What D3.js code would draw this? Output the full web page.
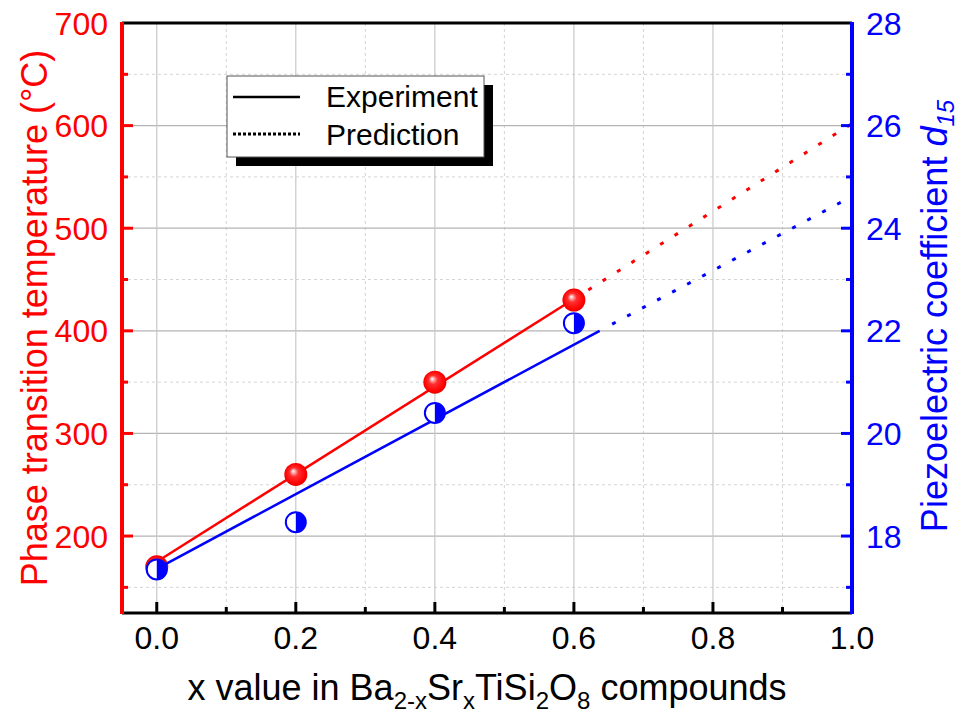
<!DOCTYPE html>
<meta charset="utf-8">
<head>
  <title>Phase transition and d15</title>
  <script src="https://cdn.jsdelivr.net/npm/d3@7/dist/d3.min.js"></script>
  <style>
    body { margin: 0; background: #fff; }
    svg text { font-family: "Liberation Sans", Arial, sans-serif; }
  </style>
</head>
<body>
<div id="chart"></div>
<script>
// data
var xValues = [0.0, 0.2, 0.4, 0.6];
var tempValues = [170, 260, 350, 430];        // phase transition temperature (C)
var d15Values = [17.35, 18.27, 20.4, 22.15];   // piezoelectric coefficient d15

// fitted lines: [x, y] end points
var tempFitExp = [[0.0, 175], [0.6, 431]];
var tempFitPred = [[0.6, 431], [1.0, 602]];
var d15FitExp = [[0.0, 17.36], [0.637, 22.0]];
var d15FitPred = [[0.655, 22.13], [1.0, 24.62]];

var xTicks = [0.0, 0.2, 0.4, 0.6, 0.8, 1.0];
var xMinor = [0.1, 0.3, 0.5, 0.7, 0.9];
var leftTicks = [200, 300, 400, 500, 600, 700];
var leftMinor = [150, 250, 350, 450, 550, 650];
var rightTicks = [18, 20, 22, 24, 26, 28];
var rightMinor = [17, 19, 21, 23, 25, 27];

var legendItems = ["Experiment", "Prediction"];

var W = 963, H = 718;
var plot = {left: 122, right: 852, top: 23, bottom: 613};
var RED = "#ff0000", BLUE = "#0000ff";

var svg = d3.select("#chart").append("svg")
    .attr("width", W).attr("height", H);

var x = d3.scaleLinear().domain([-0.05, 1.0]).range([plot.left, plot.right]);
var yL = d3.scaleLinear().domain([125, 700]).range([plot.bottom, plot.top]);
var yR = d3.scaleLinear().domain([16.5, 28]).range([plot.bottom, plot.top]);

// red sphere gradient
var defs = svg.append("defs");
var grad = defs.append("radialGradient").attr("id", "sphere")
    .attr("cx", "50%").attr("cy", "50%").attr("r", "55%")
    .attr("fx", "38%").attr("fy", "35%");
grad.append("stop").attr("offset", "0%").attr("stop-color", "#ffffff");
grad.append("stop").attr("offset", "35%").attr("stop-color", "#ff3030");
grad.append("stop").attr("offset", "80%").attr("stop-color", "#ff0000");
grad.append("stop").attr("offset", "100%").attr("stop-color", "#d40000");

var clipL = defs.append("clipPath").attr("id", "lefthalf");
clipL.append("rect").attr("x", -20).attr("y", -20).attr("width", 20).attr("height", 40);

// grid
var grid = svg.append("g");
grid.selectAll(".hmin").data(leftMinor).enter().append("line")
    .attr("x1", plot.left).attr("x2", plot.right)
    .attr("y1", d => yL(d)).attr("y2", d => yL(d))
    .attr("stroke", "#d4d4d4").attr("stroke-width", 1).attr("stroke-dasharray", "3,3");
grid.selectAll(".vmin").data(xMinor).enter().append("line")
    .attr("y1", plot.top).attr("y2", plot.bottom)
    .attr("x1", d => x(d)).attr("x2", d => x(d))
    .attr("stroke", "#d4d4d4").attr("stroke-width", 1).attr("stroke-dasharray", "3,3");
grid.selectAll(".hmaj").data(leftTicks.filter(d => d < 700)).enter().append("line")
    .attr("x1", plot.left).attr("x2", plot.right)
    .attr("y1", d => yL(d)).attr("y2", d => yL(d))
    .attr("stroke", "#b4b4b4").attr("stroke-width", 1.2);
grid.selectAll(".vmaj").data(xTicks.filter(d => d < 1)).enter().append("line")
    .attr("y1", plot.top).attr("y2", plot.bottom)
    .attr("x1", d => x(d)).attr("x2", d => x(d))
    .attr("stroke", "#c8c8c8").attr("stroke-width", 1.2);

// lines
var lineL = d3.line().x(d => x(d[0])).y(d => yL(d[1]));
var lineR = d3.line().x(d => x(d[0])).y(d => yR(d[1]));

svg.append("path").attr("d", lineL(tempFitExp))
    .attr("fill", "none").attr("stroke", RED).attr("stroke-width", 2.5);
svg.append("path").attr("d", lineL(tempFitPred))
    .attr("fill", "none").attr("stroke", RED).attr("stroke-width", 3)
    .attr("stroke-dasharray", "4,13");

svg.selectAll(".tempPt").data(xValues).enter().append("circle")
    .attr("cx", d => x(d)).attr("cy", (d, i) => yL(tempValues[i]))
    .attr("r", 11.5).attr("fill", "url(#sphere)");

svg.append("path").attr("d", lineR(d15FitExp))
    .attr("fill", "none").attr("stroke", BLUE).attr("stroke-width", 2.5);
svg.append("path").attr("d", lineR(d15FitPred))
    .attr("fill", "none").attr("stroke", BLUE).attr("stroke-width", 3)
    .attr("stroke-dasharray", "4,13");

var half = svg.selectAll(".d15Pt").data(xValues).enter().append("g")
    .attr("transform", (d, i) => "translate(" + x(d) + "," + yR(d15Values[i]) + ")");
half.append("circle").attr("r", 10).attr("fill", BLUE);
half.append("circle").attr("r", 10).attr("fill", "#fff").attr("clip-path", "url(#lefthalf)");
half.append("circle").attr("r", 10).attr("fill", "none").attr("stroke", BLUE).attr("stroke-width", 2);

// axes frame
svg.append("line").attr("x1", plot.left).attr("x2", plot.right)
    .attr("y1", plot.top).attr("y2", plot.top)
    .attr("stroke", "#000").attr("stroke-width", 3);
svg.append("line").attr("x1", plot.left).attr("x2", plot.right)
    .attr("y1", plot.bottom).attr("y2", plot.bottom)
    .attr("stroke", "#000").attr("stroke-width", 3);
svg.append("line").attr("x1", plot.left).attr("x2", plot.left)
    .attr("y1", plot.top - 1).attr("y2", plot.bottom + 1)
    .attr("stroke", RED).attr("stroke-width", 4);
svg.append("line").attr("x1", plot.right).attr("x2", plot.right)
    .attr("y1", plot.top - 1).attr("y2", plot.bottom + 1)
    .attr("stroke", BLUE).attr("stroke-width", 4);

// ticks (inward)
function tickLines(data, pos, horiz, len, base, color) {
  svg.append("g").selectAll("line").data(data).enter().append("line")
    .attr("x1", d => horiz ? base : pos(d))
    .attr("x2", d => horiz ? base + len : pos(d))
    .attr("y1", d => horiz ? pos(d) : base)
    .attr("y2", d => horiz ? pos(d) : base + len)
    .attr("stroke", color).attr("stroke-width", 3);
}
tickLines(leftTicks.filter(d => d < 700), yL, true, 11, plot.left, RED);
tickLines(leftMinor, yL, true, 6, plot.left, RED);
tickLines(rightTicks.filter(d => d < 28), yR, true, -11, plot.right, BLUE);
tickLines(rightMinor, yR, true, -6, plot.right, BLUE);
tickLines(xTicks.filter(d => d < 1), x, false, -11, plot.bottom, "#000");
tickLines(xMinor, x, false, -6, plot.bottom, "#000");

// tick labels
var fmt = d3.format(".1f");
svg.append("g").selectAll("text").data(xTicks).enter().append("text")
    .attr("x", d => x(d)).attr("y", plot.bottom + 36)
    .attr("text-anchor", "middle").attr("font-size", 32).attr("fill", "#000")
    .text(d => fmt(d));
svg.append("g").selectAll("text").data(leftTicks).enter().append("text")
    .attr("x", plot.left - 14).attr("y", d => yL(d) + 11.5)
    .attr("text-anchor", "end").attr("font-size", 32).attr("fill", RED)
    .text(d => d);
svg.append("g").selectAll("text").data(rightTicks).enter().append("text")
    .attr("x", plot.right + 14).attr("y", d => yR(d) + 11.5)
    .attr("text-anchor", "start").attr("font-size", 32).attr("fill", BLUE)
    .text(d => d);

// axis titles
svg.append("text")
    .attr("transform", "translate(47,318) rotate(-90)")
    .attr("text-anchor", "middle").attr("font-size", 36).attr("fill", RED)
    .text("Phase transition temperature (\u00B0C)");

var rt = svg.append("text")
    .attr("transform", "translate(947,316) rotate(-90)")
    .attr("text-anchor", "middle").attr("font-size", 36).attr("fill", BLUE);
rt.append("tspan").text("Piezoelectric coefficient ");
rt.append("tspan").attr("font-style", "italic").text("d");
rt.append("tspan").attr("font-style", "italic").attr("font-size", 24).attr("dy", 7).text("15");

var xt = svg.append("text")
    .attr("x", 487).attr("y", 700)
    .attr("text-anchor", "middle").attr("font-size", 36).attr("fill", "#000");
var parts = [["x value in Ba", 0], ["2-x", 1], ["Sr", 0], ["x", 1], ["TiSi", 0], ["2", 1], ["O", 0], ["8", 1], [" compounds", 0]];
var level = 0;
parts.forEach(function(p) {
  var ts = xt.append("tspan").text(p[0]);
  if (p[1] !== level) { ts.attr("dy", p[1] ? 9 : -9); level = p[1]; }
  if (p[1]) ts.attr("font-size", 24);
});

// legend
var lg = svg.append("g").attr("transform", "translate(227,76)");
lg.append("rect").attr("x", 9).attr("y", 9).attr("width", 257).attr("height", 81).attr("fill", "#000");
lg.append("rect").attr("x", 0).attr("y", 0).attr("width", 257).attr("height", 81)
    .attr("fill", "#fff").attr("stroke", "#555").attr("stroke-width", 1);
lg.selectAll(".li").data(legendItems).enter().append("line")
    .attr("x1", 6).attr("x2", 73)
    .attr("y1", (d, i) => 21 + i * 37).attr("y2", (d, i) => 21 + i * 37)
    .attr("stroke", "#000").attr("stroke-width", (d, i) => i ? 3 : 2.5)
    .attr("stroke-dasharray", (d, i) => i ? "3,2" : null);
lg.selectAll(".lt").data(legendItems).enter().append("text")
    .attr("x", 99).attr("y", (d, i) => 31 + i * 38)
    .attr("font-size", 30).attr("fill", "#000")
    .text(d => d);
</script>
</body>
</html>
